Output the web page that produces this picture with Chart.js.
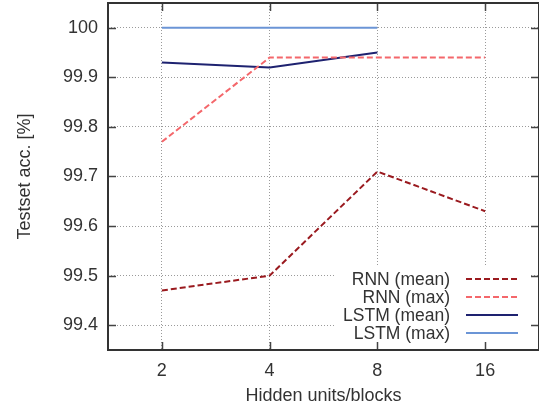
<!DOCTYPE html>
<html><head><meta charset="utf-8">
<script src="https://cdn.jsdelivr.net/npm/chart.js@4"></script>
<style>html,body{margin:0;padding:0;background:#fff;}#wrap{width:539px;height:410px;}</style>
</head><body><div id="wrap"><canvas id="c" width="539" height="410"></canvas></div>
<script>
const categories = ['2', '4', '8', '16'];
const rnnMean = [99.47, 99.50, 99.71, 99.63];
const rnnMax = [99.77, 99.94, 99.94, 99.94];
const lstmMean = [99.93, 99.92, 99.95, null];
const lstmMax = [100, 100, 100, null];
const yTicks = [99.4, 99.5, 99.6, 99.7, 99.8, 99.9, 100];
const seriesLabels = ['RNN (mean)', 'RNN (max)', 'LSTM (mean)', 'LSTM (max)'];

const FONT = 'Liberation Sans, Arial, Helvetica, sans-serif';
const TEXT = '#333333';

const framePlugin = {
  id: 'frame',
  afterDatasetsDraw(chart) {
    const ctx = chart.ctx;
    const a = chart.chartArea;
    const xs = chart.scales.x, ys = chart.scales.y;
    ctx.save();
    // legend box (opaque)
    ctx.fillStyle = '#fff';
    ctx.fillRect(335, 267, 196, 76);
    ctx.font = '17.5px ' + FONT;
    ctx.textAlign = 'right';
    ctx.textBaseline = 'middle';
    chart.data.datasets.forEach((ds, i) => {
      const y = 279 + 18 * i;
      ctx.fillStyle = TEXT;
      ctx.fillText(ds.label, 450, y + 1);
      ctx.strokeStyle = ds.borderColor;
      ctx.lineWidth = ds.borderWidth;
      ctx.setLineDash(ds.borderDash || []);
      ctx.beginPath();
      ctx.moveTo(466, y);
      ctx.lineTo(518, y);
      ctx.stroke();
    });
    ctx.setLineDash([]);
    // ticks
    ctx.strokeStyle = '#444';
    ctx.lineWidth = 1.5;
    ctx.beginPath();
    ys.ticks.forEach(t => {
      const y = Math.round(ys.getPixelForValue(t.value)) + 0.5;
      ctx.moveTo(a.left, y); ctx.lineTo(a.left + 8, y);
      ctx.moveTo(a.right, y); ctx.lineTo(a.right - 8, y);
    });
    xs.ticks.forEach((t, i) => {
      const x = Math.round(xs.getPixelForTick(i)) + 0.5;
      ctx.moveTo(x, a.bottom); ctx.lineTo(x, a.bottom - 8);
      ctx.moveTo(x, a.top); ctx.lineTo(x, a.top + 8);
    });
    ctx.stroke();
    // frame
    ctx.strokeStyle = '#333';
    ctx.lineWidth = 2;
    ctx.strokeRect(a.left, a.top, a.right - a.left, a.bottom - a.top);
    ctx.restore();
  }
};

function noPad(s) { s.paddingTop = 0; s.paddingBottom = 0; s.paddingLeft = 0; s.paddingRight = 0; }

new Chart(document.getElementById('c'), {
  type: 'line',
  data: {
    labels: categories,
    datasets: [
      { label: seriesLabels[0], data: rnnMean, borderColor: '#9a1a1f', borderWidth: 2, borderDash: [6, 3], pointRadius: 0, fill: false, tension: 0 },
      { label: seriesLabels[1], data: rnnMax, borderColor: '#f4676b', borderWidth: 2, borderDash: [6, 3], pointRadius: 0, fill: false, tension: 0 },
      { label: seriesLabels[2], data: lstmMean, borderColor: '#1e2270', borderWidth: 2, pointRadius: 0, fill: false, tension: 0 },
      { label: seriesLabels[3], data: lstmMax, borderColor: '#6b95d6', borderWidth: 2, pointRadius: 0, fill: false, tension: 0 }
    ]
  },
  options: {
    responsive: false,
    animation: false,
    devicePixelRatio: 1,
    layout: { padding: { left: 0, right: 0, top: 3, bottom: 0 } },
    plugins: { legend: { display: false }, tooltip: { enabled: false } },
    scales: {
      x: {
        type: 'category',
        offset: true,
        grid: { color: '#9a9a9a', lineWidth: 1, drawTicks: false },
        border: { display: false, dash: [1, 2] },
        ticks: { color: TEXT, font: { family: FONT, size: 18 }, padding: 10, maxRotation: 0 },
        title: { display: true, text: 'Hidden units/blocks', color: TEXT, font: { family: FONT, size: 18 }, padding: { top: 0, bottom: 3 } },
        afterFit(s) { s.height = 60; noPad(s); }
      },
      y: {
        min: 99.35,
        max: 100.05,
        grid: { color: '#9a9a9a', lineWidth: 1, drawTicks: false },
        border: { display: false, dash: [1, 2] },
        afterBuildTicks(s) { s.ticks = yTicks.map(v => ({ value: v })); },
        ticks: { color: TEXT, font: { family: FONT, size: 18 }, padding: 10, callback: v => String(Math.round(v * 10) / 10) },
        title: { display: true, text: 'Testset acc. [%]', color: TEXT, font: { family: FONT, size: 18 }, padding: { top: 14, bottom: 0 } },
        afterFit(s) { s.width = 108; noPad(s); }
      }
    }
  },
  plugins: [framePlugin]
});
</script>
</body></html>
